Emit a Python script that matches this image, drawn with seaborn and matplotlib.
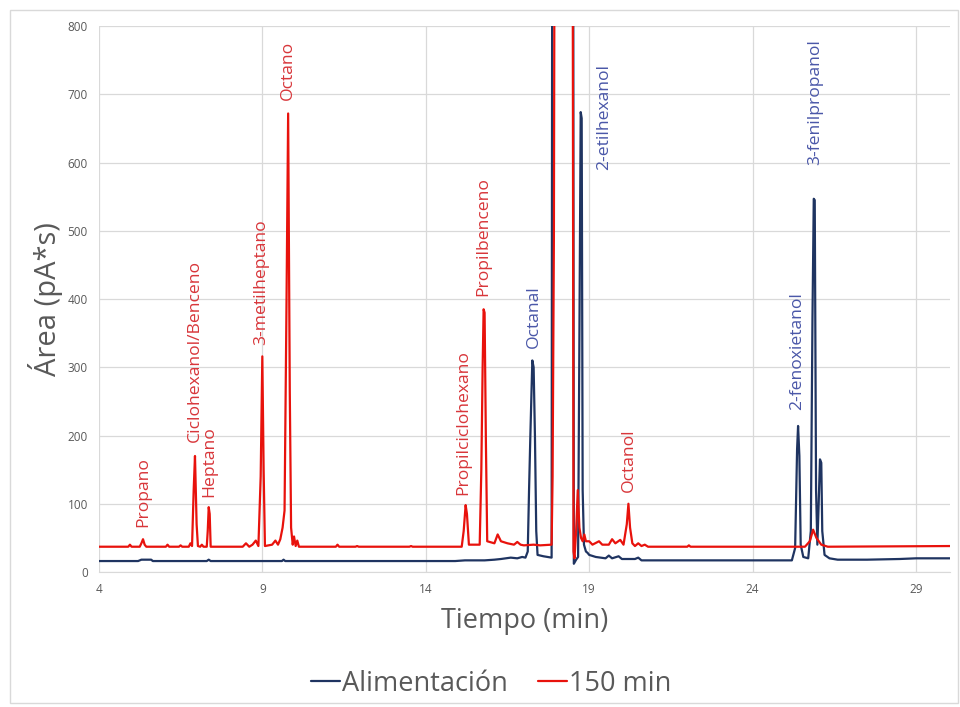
import numpy as np
import pandas as pd
import seaborn as sns
import matplotlib.pyplot as plt
from matplotlib.patches import Rectangle

# Cromatograma: tiempo (min) y área (pA*s)
alim_t = [4.0, 5.2, 5.3, 5.6, 5.65, 7.3, 7.36, 7.42, 9.6, 9.65, 9.7, 14.9, 15.2,
          15.8, 16.1, 16.3, 16.6, 16.8, 16.95, 17.05, 17.12, 17.16, 17.2, 17.26,
          17.3, 17.34, 17.38, 17.42, 17.6, 17.85, 17.88, 18.5, 18.53, 18.6, 18.66,
          18.7, 18.74, 18.77, 18.8, 18.84, 18.9, 18.95, 19.0, 19.2, 19.5, 19.6, 19.7,
          19.9, 20.0, 20.4, 20.5, 20.6, 22.0, 25.2, 25.3, 25.36, 25.39, 25.43,
          25.47, 25.55, 25.7, 25.78, 25.83, 25.87, 25.9, 25.94, 25.98, 26.02, 26.06,
          26.1, 26.13, 26.2, 26.35, 26.6, 27.5, 28.5, 29.0, 30.05]
alim_y = [16, 16, 18, 18, 16, 16, 18, 16, 16, 18, 16, 16, 17,
          17, 18, 19, 21, 20, 22, 21, 30, 120, 200, 310,
          300, 200, 60, 25, 23, 21, 1500, 1500, 12, 18, 22,
          340, 674, 665, 120, 40, 30, 28, 25, 22, 20, 24, 20,
          23, 19, 19, 21, 17, 17, 17, 35, 180, 214, 170,
          40, 22, 20, 60, 370, 547, 545, 120, 40, 100, 165,
          160, 60, 25, 20, 18, 18, 19, 20, 20]

t150_t = [4.0, 4.9, 4.95, 5.0, 5.25, 5.3, 5.35, 5.4, 5.45, 6.05, 6.1, 6.15, 6.45,
          6.5, 6.55, 6.75, 6.8, 6.85, 6.9, 6.94, 6.99, 7.03, 7.1, 7.15, 7.2, 7.3,
          7.33, 7.36, 7.39, 7.42, 8.4, 8.5, 8.6, 8.7, 8.8, 8.88, 8.95, 9.0, 9.04,
          9.08, 9.3, 9.4, 9.48, 9.55, 9.62, 9.68, 9.74, 9.79, 9.84, 9.88, 9.93,
          9.97, 10.02, 10.07, 10.12, 11.25, 11.3, 11.35, 11.85, 11.9, 11.95, 13.5,
          13.55, 13.6, 15.1, 15.16, 15.22, 15.26, 15.32, 15.65, 15.7, 15.74, 15.77,
          15.8, 15.84, 15.88, 16.1, 16.2, 16.3, 16.5, 16.7, 16.8, 16.9, 17.0, 17.3,
          17.5, 17.85, 17.88, 17.92, 17.96, 18.48, 18.52, 18.55, 18.6, 18.65, 18.7,
          18.75, 18.8, 18.85, 18.9, 19.0, 19.1, 19.3, 19.4, 19.6, 19.7, 19.8, 19.95,
          20.05, 20.15, 20.2, 20.25, 20.32, 20.4, 20.5, 20.6, 20.7, 20.8, 22.0,
          22.05, 22.1, 25.6, 25.75, 25.85, 25.95, 26.1, 26.3, 30.05]
t150_y = [37, 37, 40, 37, 37, 42, 48, 40, 37, 37, 40, 37, 37,
          39, 37, 37, 42, 38, 120, 170, 70, 38, 37, 40, 37, 37,
          60, 95, 85, 37, 37, 42, 37, 40, 46, 38, 140, 316, 150,
          38, 40, 46, 40, 48, 65, 90, 395, 672, 265, 65, 40,
          52, 38, 46, 37, 37, 40, 37, 37, 38, 37, 37,
          38, 37, 37, 60, 98, 85, 40, 40, 150, 300, 385,
          380, 190, 45, 42, 55, 45, 42, 40, 44, 40, 39, 40,
          39, 40, 140, 490, 1500, 1500, 30, 20, 60, 120, 65,
          50, 45, 55, 45, 45, 40, 45, 40, 40, 48, 42, 47,
          40, 70, 100, 65, 42, 38, 42, 38, 40, 37, 37,
          39, 37, 37, 45, 62, 50, 40, 37, 38]

series_names = ["Alimentación", "150 min"]
series_colors = ["#1f3461", "#e8120c"]

# Etiquetas de los picos: nombre, tiempo, área de la base del texto, serie
peak_names = ["Propano", "Ciclohexanol/Benceno", "Heptano", "3-metilheptano",
              "Octano", "Propilciclohexano", "Propilbenceno", "Octanal",
              "2-etilhexanol", "Octanol", "2-fenoxietanol", "3-fenilpropanol"]
peak_times = [5.35, 6.94, 7.39, 8.98, 9.77, 15.16, 15.77, 17.3,
              19.45, 20.2, 25.35, 25.92]
peak_label_y = [66, 190, 110, 333, 692, 113, 404, 328, 589, 117, 237, 596]
peak_series = [1, 1, 1, 1, 1, 1, 1, 0, 0, 1, 0, 0]
label_colors = ["#4a57a8", "#d8363a"]

df = pd.concat([
    pd.DataFrame({"t": alim_t, "area": alim_y, "serie": series_names[0]}),
    pd.DataFrame({"t": t150_t, "area": t150_y, "serie": series_names[1]}),
])

sns.set_style("whitegrid")
plt.rcParams["font.family"] = ["Open Sans", "DejaVu Sans"]

fig = plt.figure(figsize=(9.6, 7.07), dpi=100)
ax = fig.add_axes([0.103, 0.191, 0.887, 0.772])

sns.lineplot(data=df, x="t", y="area", hue="serie", palette=series_colors,
             hue_order=series_names, estimator=None, sort=False, linewidth=1.6,
             ax=ax, legend=True)

ax.set_xlim(4, 30.05)
ax.set_ylim(0, 800)
ax.set_xticks([4, 9, 14, 19, 24, 29])
ax.set_yticks(range(0, 801, 100))
ax.grid(True, color="#d9d9d9", linewidth=0.9)
for s in ax.spines.values():
    s.set_visible(False)
ax.spines["bottom"].set_visible(True)
ax.spines["bottom"].set_color("#d9d9d9")
ax.tick_params(axis="both", labelsize=8.5, colors="#595959", length=0, pad=8)

ax.set_xlabel("Tiempo (min)", fontsize=19.5, color="#595959", labelpad=8)
ax.set_ylabel("Área (pA*s)", fontsize=21, color="#595959", labelpad=3)

for name, t, y, s in zip(peak_names, peak_times, peak_label_y, peak_series):
    ax.text(t, y, name, rotation=90, ha="center", va="bottom", fontsize=12.6,
            color=label_colors[s])

leg = ax.legend(loc="center", bbox_to_anchor=(0.512, 0.033),
                bbox_transform=fig.transFigure, ncol=2, frameon=False,
                fontsize=19.5, handlelength=1.05, handletextpad=0.1,
                columnspacing=1.1)
for txt in leg.get_texts():
    txt.set_color("#595959")

fig.patches.append(Rectangle((0.010, 0.006), 0.988, 0.980, transform=fig.transFigure,
                             fill=False, edgecolor="#d9d9d9", linewidth=1.0))

fig.savefig("out.png", dpi=100, facecolor="white")
